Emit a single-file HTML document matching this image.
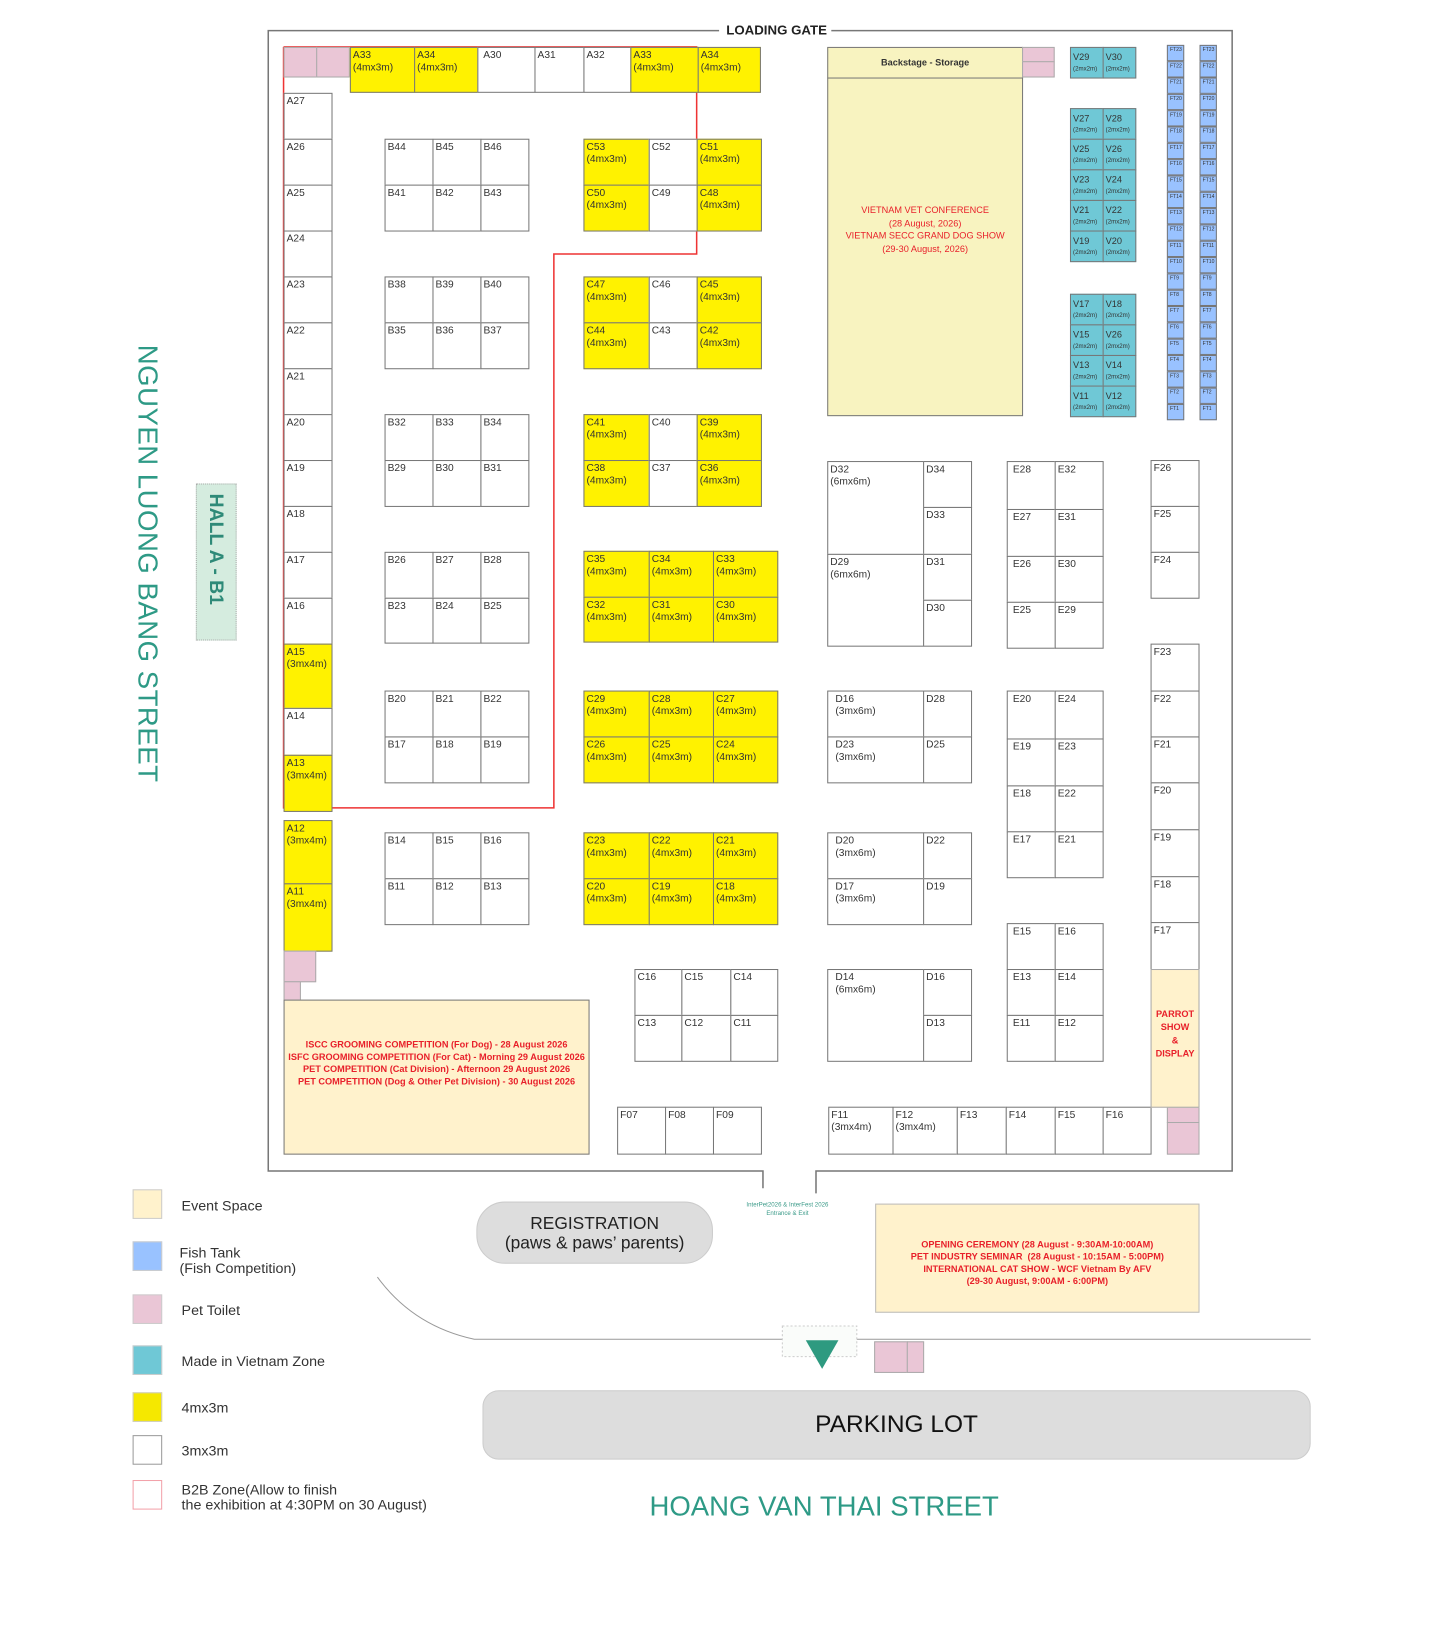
<!DOCTYPE html>
<html><head><meta charset="utf-8">
<style>
body{margin:0;width:1453px;height:1600px;position:relative;background:#fff;font-family:"Liberation Sans",sans-serif;overflow:hidden}
#w{position:absolute;left:0;top:0;width:1453px;height:1600px;transform-origin:0 0;transform:scale(1.02)}
.b{position:absolute;box-sizing:border-box;border:1px solid #777;background:#fff;font-size:10px;color:#333;padding:2px 2px;line-height:12px}
.y{background:#fff200}
.p{background:#eac6d6;border-color:#aaa}
.v{background:#6fc8d6;font-size:9px;line-height:14px}
.v i{font-style:normal;font-size:6px;display:block;line-height:10px}
.f{background:#99c2ff;font-size:5px;line-height:7px;padding:1px 2px}
.t{position:absolute;white-space:nowrap}
.red{color:#e8202a;font-weight:bold;text-align:center;position:absolute}
.lg{position:absolute;left:130px;width:29px;height:29px;box-sizing:border-box;border:1px solid #ccc}
.lt{position:absolute;left:178px;font-size:14px;color:#333;line-height:15px}
</style></head><body><div id="w">
<svg width="1453" height="1600" style="position:absolute;left:0;top:0">
<g fill="none" stroke="#777" stroke-width="1.5">
<polyline points="705,30 263,30 263,1148 748,1148 748,1165"/>
<polyline points="815,30 1208,30 1208,1148 800,1148 800,1170"/>
</g>
<polyline points="278,46 683,46 683,249 543,249 543,792 278,792 278,46" fill="none" stroke="#e33" stroke-width="1.5"/>
<path d="M370,1252 Q405,1300 465,1313 L1285,1313" fill="none" stroke="#999" stroke-width="1"/>
<rect x="767" y="1300" width="73" height="30" fill="#fafcfa" stroke="#ccc" stroke-dasharray="2,2"/>
<polygon points="790,1314 822,1314 806,1342" fill="#2e9a80"/>
</svg>
<div class="t" style="left:712px;top:22px;font-size:13px;font-weight:bold;color:#222">LOADING GATE</div>

<div class="b p" style="left:278px;top:46px;width:33px;height:30px"></div>
<div class="b p" style="left:310px;top:46px;width:33px;height:30px"></div>
<div class="b y" style="left:343px;top:46px;width:64px;height:45px">A33<br>(4mx3m)</div>
<div class="b y" style="left:406px;top:46px;width:63px;height:45px">A34<br>(4mx3m)</div>
<div class="b" style="left:468px;top:46px;width:57px;height:45px">&nbsp;A30</div>
<div class="b" style="left:524px;top:46px;width:49px;height:45px">A31</div>
<div class="b" style="left:572px;top:46px;width:47px;height:45px">A32</div>
<div class="b y" style="left:618px;top:46px;width:67px;height:45px">A33<br>(4mx3m)</div>
<div class="b y" style="left:684px;top:46px;width:62px;height:45px">A34<br>(4mx3m)</div>

<div class="b" style="left:278px;top:91px;width:48px;height:46px">A27</div>
<div class="b" style="left:278px;top:136px;width:48px;height:46px">A26</div>
<div class="b" style="left:278px;top:181px;width:48px;height:46px">A25</div>
<div class="b" style="left:278px;top:226px;width:48px;height:46px">A24</div>
<div class="b" style="left:278px;top:271px;width:48px;height:46px">A23</div>
<div class="b" style="left:278px;top:316px;width:48px;height:46px">A22</div>
<div class="b" style="left:278px;top:361px;width:48px;height:46px">A21</div>
<div class="b" style="left:278px;top:406px;width:48px;height:46px">A20</div>
<div class="b" style="left:278px;top:451px;width:48px;height:46px">A19</div>
<div class="b" style="left:278px;top:496px;width:48px;height:46px">A18</div>
<div class="b" style="left:278px;top:541px;width:48px;height:46px">A17</div>
<div class="b" style="left:278px;top:586px;width:48px;height:46px">A16</div>
<div class="b y" style="left:278px;top:631px;width:48px;height:64px">A15<br>(3mx4m)</div>
<div class="b" style="left:278px;top:694px;width:48px;height:47px">A14</div>
<div class="b y" style="left:278px;top:740px;width:48px;height:56px">A13<br>(3mx4m)</div>
<div class="b y" style="left:278px;top:804px;width:48px;height:63px">A12<br>(3mx4m)</div>
<div class="b y" style="left:278px;top:866px;width:48px;height:67px">A11<br>(3mx4m)</div>
<div class="b p" style="left:278px;top:932px;width:32px;height:31px"></div>
<div class="b p" style="left:278px;top:962px;width:17px;height:19px"></div>

<div class="b" style="left:377px;top:136px;width:48px;height:46px">B44</div><div class="b" style="left:424px;top:136px;width:48px;height:46px">B45</div><div class="b" style="left:471px;top:136px;width:48px;height:46px">B46</div>
<div class="b" style="left:377px;top:181px;width:48px;height:46px">B41</div><div class="b" style="left:424px;top:181px;width:48px;height:46px">B42</div><div class="b" style="left:471px;top:181px;width:48px;height:46px">B43</div>
<div class="b" style="left:377px;top:271px;width:48px;height:46px">B38</div><div class="b" style="left:424px;top:271px;width:48px;height:46px">B39</div><div class="b" style="left:471px;top:271px;width:48px;height:46px">B40</div>
<div class="b" style="left:377px;top:316px;width:48px;height:46px">B35</div><div class="b" style="left:424px;top:316px;width:48px;height:46px">B36</div><div class="b" style="left:471px;top:316px;width:48px;height:46px">B37</div>
<div class="b" style="left:377px;top:406px;width:48px;height:46px">B32</div><div class="b" style="left:424px;top:406px;width:48px;height:46px">B33</div><div class="b" style="left:471px;top:406px;width:48px;height:46px">B34</div>
<div class="b" style="left:377px;top:451px;width:48px;height:46px">B29</div><div class="b" style="left:424px;top:451px;width:48px;height:46px">B30</div><div class="b" style="left:471px;top:451px;width:48px;height:46px">B31</div>
<div class="b" style="left:377px;top:541px;width:48px;height:46px">B26</div><div class="b" style="left:424px;top:541px;width:48px;height:46px">B27</div><div class="b" style="left:471px;top:541px;width:48px;height:46px">B28</div>
<div class="b" style="left:377px;top:586px;width:48px;height:45px">B23</div><div class="b" style="left:424px;top:586px;width:48px;height:45px">B24</div><div class="b" style="left:471px;top:586px;width:48px;height:45px">B25</div>
<div class="b" style="left:377px;top:677px;width:48px;height:46px">B20</div><div class="b" style="left:424px;top:677px;width:48px;height:46px">B21</div><div class="b" style="left:471px;top:677px;width:48px;height:46px">B22</div>
<div class="b" style="left:377px;top:722px;width:48px;height:46px">B17</div><div class="b" style="left:424px;top:722px;width:48px;height:46px">B18</div><div class="b" style="left:471px;top:722px;width:48px;height:46px">B19</div>
<div class="b" style="left:377px;top:816px;width:48px;height:46px">B14</div><div class="b" style="left:424px;top:816px;width:48px;height:46px">B15</div><div class="b" style="left:471px;top:816px;width:48px;height:46px">B16</div>
<div class="b" style="left:377px;top:861px;width:48px;height:46px">B11</div><div class="b" style="left:424px;top:861px;width:48px;height:46px">B12</div><div class="b" style="left:471px;top:861px;width:48px;height:46px">B13</div>

<div class="b y" style="left:572px;top:136px;width:65px;height:46px">C53<br>(4mx3m)</div><div class="b" style="left:636px;top:136px;width:48px;height:46px">C52</div><div class="b y" style="left:683px;top:136px;width:64px;height:46px">C51<br>(4mx3m)</div>
<div class="b y" style="left:572px;top:181px;width:65px;height:46px">C50<br>(4mx3m)</div><div class="b" style="left:636px;top:181px;width:48px;height:46px">C49</div><div class="b y" style="left:683px;top:181px;width:64px;height:46px">C48<br>(4mx3m)</div>
<div class="b y" style="left:572px;top:271px;width:65px;height:46px">C47<br>(4mx3m)</div><div class="b" style="left:636px;top:271px;width:48px;height:46px">C46</div><div class="b y" style="left:683px;top:271px;width:64px;height:46px">C45<br>(4mx3m)</div>
<div class="b y" style="left:572px;top:316px;width:65px;height:46px">C44<br>(4mx3m)</div><div class="b" style="left:636px;top:316px;width:48px;height:46px">C43</div><div class="b y" style="left:683px;top:316px;width:64px;height:46px">C42<br>(4mx3m)</div>
<div class="b y" style="left:572px;top:406px;width:65px;height:46px">C41<br>(4mx3m)</div><div class="b" style="left:636px;top:406px;width:48px;height:46px">C40</div><div class="b y" style="left:683px;top:406px;width:64px;height:46px">C39<br>(4mx3m)</div>
<div class="b y" style="left:572px;top:451px;width:65px;height:46px">C38<br>(4mx3m)</div><div class="b" style="left:636px;top:451px;width:48px;height:46px">C37</div><div class="b y" style="left:683px;top:451px;width:64px;height:46px">C36<br>(4mx3m)</div>
<div class="b y" style="left:572px;top:540px;width:65px;height:46px">C35<br>(4mx3m)</div><div class="b y" style="left:636px;top:540px;width:64px;height:46px">C34<br>(4mx3m)</div><div class="b y" style="left:699px;top:540px;width:64px;height:46px">C33<br>(4mx3m)</div>
<div class="b y" style="left:572px;top:585px;width:65px;height:45px">C32<br>(4mx3m)</div><div class="b y" style="left:636px;top:585px;width:64px;height:45px">C31<br>(4mx3m)</div><div class="b y" style="left:699px;top:585px;width:64px;height:45px">C30<br>(4mx3m)</div>
<div class="b y" style="left:572px;top:677px;width:65px;height:46px">C29<br>(4mx3m)</div><div class="b y" style="left:636px;top:677px;width:64px;height:46px">C28<br>(4mx3m)</div><div class="b y" style="left:699px;top:677px;width:64px;height:46px">C27<br>(4mx3m)</div>
<div class="b y" style="left:572px;top:722px;width:65px;height:46px">C26<br>(4mx3m)</div><div class="b y" style="left:636px;top:722px;width:64px;height:46px">C25<br>(4mx3m)</div><div class="b y" style="left:699px;top:722px;width:64px;height:46px">C24<br>(4mx3m)</div>
<div class="b y" style="left:572px;top:816px;width:65px;height:46px">C23<br>(4mx3m)</div><div class="b y" style="left:636px;top:816px;width:64px;height:46px">C22<br>(4mx3m)</div><div class="b y" style="left:699px;top:816px;width:64px;height:46px">C21<br>(4mx3m)</div>
<div class="b y" style="left:572px;top:861px;width:65px;height:46px">C20<br>(4mx3m)</div><div class="b y" style="left:636px;top:861px;width:64px;height:46px">C19<br>(4mx3m)</div><div class="b y" style="left:699px;top:861px;width:64px;height:46px">C18<br>(4mx3m)</div>
<div class="b" style="left:622px;top:950px;width:47px;height:46px">C16</div><div class="b" style="left:668px;top:950px;width:49px;height:46px">C15</div><div class="b" style="left:716px;top:950px;width:47px;height:46px">C14</div>
<div class="b" style="left:622px;top:995px;width:47px;height:46px">C13</div><div class="b" style="left:668px;top:995px;width:49px;height:46px">C12</div><div class="b" style="left:716px;top:995px;width:47px;height:46px">C11</div>

<div class="b" style="left:278px;top:980px;width:300px;height:152px;background:#fff2cc"></div>
<div class="red" style="left:278px;top:1018px;width:300px;font-size:9px;line-height:12px">ISCC GROOMING COMPETITION (For Dog) - 28 August 2026<br>ISFC GROOMING COMPETITION (For Cat) - Morning 29 August 2026<br>PET COMPETITION (Cat Division) - Afternoon 29 August 2026<br>PET COMPETITION (Dog &amp; Other Pet Division) - 30 August 2026</div>

<div class="b" style="left:605px;top:1085px;width:48px;height:47px">F07</div><div class="b" style="left:652px;top:1085px;width:48px;height:47px">F08</div><div class="b" style="left:699px;top:1085px;width:48px;height:47px">F09</div>
<div class="b" style="left:812px;top:1085px;width:64px;height:47px">F11<br>(3mx4m)</div><div class="b" style="left:875px;top:1085px;width:64px;height:47px">F12<br>(3mx4m)</div><div class="b" style="left:938px;top:1085px;width:49px;height:47px">F13</div><div class="b" style="left:986px;top:1085px;width:49px;height:47px">F14</div><div class="b" style="left:1034px;top:1085px;width:48px;height:47px">F15</div><div class="b" style="left:1081px;top:1085px;width:48px;height:47px">F16</div>
<div class="b p" style="left:1144px;top:1085px;width:32px;height:16px"></div><div class="b p" style="left:1144px;top:1100px;width:32px;height:32px"></div>

<div class="b" style="left:811px;top:46px;width:192px;height:31px;background:#f8f3c0;font-weight:bold;font-size:9px;text-align:center;line-height:24px">Backstage - Storage</div>
<div class="b" style="left:811px;top:76px;width:192px;height:332px;background:#f8f3c0"></div>
<div class="red" style="left:811px;top:200px;width:192px;font-size:9px;line-height:12.5px;font-weight:normal">VIETNAM VET CONFERENCE<br>(28 August, 2026)<br>VIETNAM SECC GRAND DOG SHOW<br>(29-30 August, 2026)</div>
<div class="b p" style="left:1002px;top:46px;width:32px;height:15px"></div><div class="b p" style="left:1002px;top:60px;width:32px;height:16px"></div>

<div class="b v" style="left:1049px;top:46px;width:33px;height:31px">V29<i>(2mx2m)</i></div><div class="b v" style="left:1081px;top:46px;width:33px;height:31px">V30<i>(2mx2m)</i></div>
<div class="b v" style="left:1049px;top:106px;width:33px;height:31px">V27<i>(2mx2m)</i></div><div class="b v" style="left:1081px;top:106px;width:33px;height:31px">V28<i>(2mx2m)</i></div>
<div class="b v" style="left:1049px;top:136px;width:33px;height:31px">V25<i>(2mx2m)</i></div><div class="b v" style="left:1081px;top:136px;width:33px;height:31px">V26<i>(2mx2m)</i></div>
<div class="b v" style="left:1049px;top:166px;width:33px;height:31px">V23<i>(2mx2m)</i></div><div class="b v" style="left:1081px;top:166px;width:33px;height:31px">V24<i>(2mx2m)</i></div>
<div class="b v" style="left:1049px;top:196px;width:33px;height:31px">V21<i>(2mx2m)</i></div><div class="b v" style="left:1081px;top:196px;width:33px;height:31px">V22<i>(2mx2m)</i></div>
<div class="b v" style="left:1049px;top:226px;width:33px;height:31px">V19<i>(2mx2m)</i></div><div class="b v" style="left:1081px;top:226px;width:33px;height:31px">V20<i>(2mx2m)</i></div>
<div class="b v" style="left:1049px;top:288px;width:33px;height:31px">V17<i>(2mx2m)</i></div><div class="b v" style="left:1081px;top:288px;width:33px;height:31px">V18<i>(2mx2m)</i></div>
<div class="b v" style="left:1049px;top:318px;width:33px;height:31px">V15<i>(2mx2m)</i></div><div class="b v" style="left:1081px;top:318px;width:33px;height:31px">V26<i>(2mx2m)</i></div>
<div class="b v" style="left:1049px;top:348px;width:33px;height:31px">V13<i>(2mx2m)</i></div><div class="b v" style="left:1081px;top:348px;width:33px;height:31px">V14<i>(2mx2m)</i></div>
<div class="b v" style="left:1049px;top:378px;width:33px;height:31px">V11<i>(2mx2m)</i></div><div class="b v" style="left:1081px;top:378px;width:33px;height:31px">V12<i>(2mx2m)</i></div>

<div style="position:absolute;left:1144px;top:44px;width:17px">
<div class="b f" style="position:relative;width:17px;height:16px">FT23</div><div class="b f" style="position:relative;width:17px;height:16px">FT22</div><div class="b f" style="position:relative;width:17px;height:16px">FT21</div><div class="b f" style="position:relative;width:17px;height:16px">FT20</div><div class="b f" style="position:relative;width:17px;height:16px">FT19</div><div class="b f" style="position:relative;width:17px;height:16px">FT18</div><div class="b f" style="position:relative;width:17px;height:16px">FT17</div><div class="b f" style="position:relative;width:17px;height:16px">FT16</div><div class="b f" style="position:relative;width:17px;height:16px">FT15</div><div class="b f" style="position:relative;width:17px;height:16px">FT14</div><div class="b f" style="position:relative;width:17px;height:16px">FT13</div><div class="b f" style="position:relative;width:17px;height:16px">FT12</div><div class="b f" style="position:relative;width:17px;height:16px">FT11</div><div class="b f" style="position:relative;width:17px;height:16px">FT10</div><div class="b f" style="position:relative;width:17px;height:16px">FT9</div><div class="b f" style="position:relative;width:17px;height:16px">FT8</div><div class="b f" style="position:relative;width:17px;height:16px">FT7</div><div class="b f" style="position:relative;width:17px;height:16px">FT6</div><div class="b f" style="position:relative;width:17px;height:16px">FT5</div><div class="b f" style="position:relative;width:17px;height:16px">FT4</div><div class="b f" style="position:relative;width:17px;height:16px">FT3</div><div class="b f" style="position:relative;width:17px;height:16px">FT2</div><div class="b f" style="position:relative;width:17px;height:16px">FT1</div>
</div>
<div style="position:absolute;left:1176px;top:44px;width:17px">
<div class="b f" style="position:relative;width:17px;height:16px">FT23</div><div class="b f" style="position:relative;width:17px;height:16px">FT22</div><div class="b f" style="position:relative;width:17px;height:16px">FT21</div><div class="b f" style="position:relative;width:17px;height:16px">FT20</div><div class="b f" style="position:relative;width:17px;height:16px">FT19</div><div class="b f" style="position:relative;width:17px;height:16px">FT18</div><div class="b f" style="position:relative;width:17px;height:16px">FT17</div><div class="b f" style="position:relative;width:17px;height:16px">FT16</div><div class="b f" style="position:relative;width:17px;height:16px">FT15</div><div class="b f" style="position:relative;width:17px;height:16px">FT14</div><div class="b f" style="position:relative;width:17px;height:16px">FT13</div><div class="b f" style="position:relative;width:17px;height:16px">FT12</div><div class="b f" style="position:relative;width:17px;height:16px">FT11</div><div class="b f" style="position:relative;width:17px;height:16px">FT10</div><div class="b f" style="position:relative;width:17px;height:16px">FT9</div><div class="b f" style="position:relative;width:17px;height:16px">FT8</div><div class="b f" style="position:relative;width:17px;height:16px">FT7</div><div class="b f" style="position:relative;width:17px;height:16px">FT6</div><div class="b f" style="position:relative;width:17px;height:16px">FT5</div><div class="b f" style="position:relative;width:17px;height:16px">FT4</div><div class="b f" style="position:relative;width:17px;height:16px">FT3</div><div class="b f" style="position:relative;width:17px;height:16px">FT2</div><div class="b f" style="position:relative;width:17px;height:16px">FT1</div>
</div>

<div class="b" style="left:811px;top:452px;width:95px;height:92px">D32<br>(6mx6m)</div><div class="b" style="left:905px;top:452px;width:48px;height:46px">D34</div><div class="b" style="left:905px;top:497px;width:48px;height:47px">D33</div>
<div class="b" style="left:811px;top:543px;width:95px;height:91px">D29<br>(6mx6m)</div><div class="b" style="left:905px;top:543px;width:48px;height:46px">D31</div><div class="b" style="left:905px;top:588px;width:48px;height:46px">D30</div>
<div class="b" style="left:811px;top:677px;width:95px;height:46px;padding-left:7px">D16<br>(3mx6m)</div><div class="b" style="left:905px;top:677px;width:48px;height:46px">D28</div>
<div class="b" style="left:811px;top:722px;width:95px;height:46px;padding-left:7px">D23<br>(3mx6m)</div><div class="b" style="left:905px;top:722px;width:48px;height:46px">D25</div>
<div class="b" style="left:811px;top:816px;width:95px;height:46px;padding-left:7px">D20<br>(3mx6m)</div><div class="b" style="left:905px;top:816px;width:48px;height:46px">D22</div>
<div class="b" style="left:811px;top:861px;width:95px;height:46px;padding-left:7px">D17<br>(3mx6m)</div><div class="b" style="left:905px;top:861px;width:48px;height:46px">D19</div>
<div class="b" style="left:811px;top:950px;width:95px;height:91px;padding-left:7px">D14<br>(6mx6m)</div><div class="b" style="left:905px;top:950px;width:48px;height:46px">D16</div><div class="b" style="left:905px;top:995px;width:48px;height:46px">D13</div>

<div class="b" style="left:987px;top:452px;width:48px;height:48px;padding-left:5px">E28</div><div class="b" style="left:1034px;top:452px;width:48px;height:48px">E32</div>
<div class="b" style="left:987px;top:499px;width:48px;height:47px;padding-left:5px">E27</div><div class="b" style="left:1034px;top:499px;width:48px;height:47px">E31</div>
<div class="b" style="left:987px;top:545px;width:48px;height:46px;padding-left:5px">E26</div><div class="b" style="left:1034px;top:545px;width:48px;height:46px">E30</div>
<div class="b" style="left:987px;top:590px;width:48px;height:46px;padding-left:5px">E25</div><div class="b" style="left:1034px;top:590px;width:48px;height:46px">E29</div>
<div class="b" style="left:987px;top:677px;width:48px;height:48px;padding-left:5px">E20</div><div class="b" style="left:1034px;top:677px;width:48px;height:48px">E24</div>
<div class="b" style="left:987px;top:724px;width:48px;height:47px;padding-left:5px">E19</div><div class="b" style="left:1034px;top:724px;width:48px;height:47px">E23</div>
<div class="b" style="left:987px;top:770px;width:48px;height:46px;padding-left:5px">E18</div><div class="b" style="left:1034px;top:770px;width:48px;height:46px">E22</div>
<div class="b" style="left:987px;top:815px;width:48px;height:46px;padding-left:5px">E17</div><div class="b" style="left:1034px;top:815px;width:48px;height:46px">E21</div>
<div class="b" style="left:987px;top:905px;width:48px;height:46px;padding-left:5px">E15</div><div class="b" style="left:1034px;top:905px;width:48px;height:46px">E16</div>
<div class="b" style="left:987px;top:950px;width:48px;height:46px;padding-left:5px">E13</div><div class="b" style="left:1034px;top:950px;width:48px;height:46px">E14</div>
<div class="b" style="left:987px;top:995px;width:48px;height:46px;padding-left:5px">E11</div><div class="b" style="left:1034px;top:995px;width:48px;height:46px">E12</div>

<div class="b" style="left:1128px;top:451px;width:48px;height:46px">F26</div>
<div class="b" style="left:1128px;top:496px;width:48px;height:46px">F25</div>
<div class="b" style="left:1128px;top:541px;width:48px;height:46px">F24</div>
<div class="b" style="left:1128px;top:631px;width:48px;height:47px">F23</div>
<div class="b" style="left:1128px;top:677px;width:48px;height:46px">F22</div>
<div class="b" style="left:1128px;top:722px;width:48px;height:46px">F21</div>
<div class="b" style="left:1128px;top:767px;width:48px;height:47px">F20</div>
<div class="b" style="left:1128px;top:813px;width:48px;height:47px">F19</div>
<div class="b" style="left:1128px;top:859px;width:48px;height:46px">F18</div>
<div class="b" style="left:1128px;top:904px;width:48px;height:47px">F17</div>
<div class="b" style="left:1128px;top:950px;width:48px;height:136px;background:#fff2cc;border-color:#aaa"></div>
<div class="red" style="left:1128px;top:988px;width:48px;font-size:9px;line-height:13px">PARROT<br>SHOW<br>&amp;<br>DISPLAY</div>

<div class="t" style="left:146px;top:338px;transform-origin:0 0;transform:translate(14px,0) rotate(90deg);font-size:27px;color:#2e9a86;letter-spacing:0.5px">NGUYEN LUONG BANG STREET</div>
<div style="position:absolute;left:192px;top:474px;width:40px;height:154px;background:#d5ecdf;border:1px dotted #aaa;box-sizing:border-box"></div>
<div class="t" style="left:222px;top:484px;transform-origin:0 0;transform:rotate(90deg);font-size:19px;font-weight:bold;color:#2e8a78">HALL A - B1</div>

<div style="position:absolute;left:467px;top:1178px;width:232px;height:61px;border-radius:28px;background:#ddd;border:1px solid #ccc;box-sizing:border-box;text-align:center;font-size:17px;line-height:19px;color:#222;padding-top:11px">REGISTRATION<br>(paws &amp; paws’ parents)</div>
<div class="t" style="left:722px;top:1178px;width:100px;text-align:center;font-size:6px;line-height:8px;color:#3a9a88">InterPet2026 &amp; InterFest 2026<br>Entrance &amp; Exit</div>
<div class="b" style="left:858px;top:1180px;width:318px;height:107px;background:#fff2cc;border-color:#bbb"></div>
<div class="red" style="left:858px;top:1214px;width:318px;font-size:9px;line-height:12px">OPENING CEREMONY (28 August - 9:30AM-10:00AM)<br>PET INDUSTRY SEMINAR&nbsp; (28 August - 10:15AM - 5:00PM)<br>INTERNATIONAL CAT SHOW - WCF Vietnam By AFV<br>(29-30 August, 9:00AM - 6:00PM)</div>
<div class="b p" style="left:857px;top:1315px;width:33px;height:31px"></div><div class="b p" style="left:889px;top:1315px;width:17px;height:31px"></div>
<div style="position:absolute;left:473px;top:1363px;width:812px;height:68px;border-radius:16px;background:#ddd;border:1px solid #ccc;box-sizing:border-box;text-align:center;font-size:24px;line-height:66px;color:#111">PARKING LOT</div>
<div class="t" style="left:608px;top:1462px;width:400px;text-align:center;font-size:27px;color:#2e9a86">HOANG VAN THAI STREET</div>

<div class="lg" style="top:1166px;background:#fff2cc"></div><div class="lt" style="top:1175px">Event Space</div>
<div class="lg" style="top:1217px;background:#99c2ff"></div><div class="lt" style="top:1221px;left:176px">Fish Tank<br>(Fish Competition)</div>
<div class="lg" style="top:1269px;background:#eac6d6"></div><div class="lt" style="top:1277px">Pet Toilet</div>
<div class="lg" style="top:1319px;background:#6fc8d6"></div><div class="lt" style="top:1327px">Made in Vietnam Zone</div>
<div class="lg" style="top:1365px;background:#f5e800"></div><div class="lt" style="top:1373px">4mx3m</div>
<div class="lg" style="top:1407px;background:#fff;border-color:#999"></div><div class="lt" style="top:1415px">3mx3m</div>
<div class="lg" style="top:1451px;background:#fff;border-color:#f2a0a8"></div><div class="lt" style="top:1453px">B2B Zone(Allow to finish<br>the exhibition at 4:30PM on 30 August)</div>
</div></body></html>
